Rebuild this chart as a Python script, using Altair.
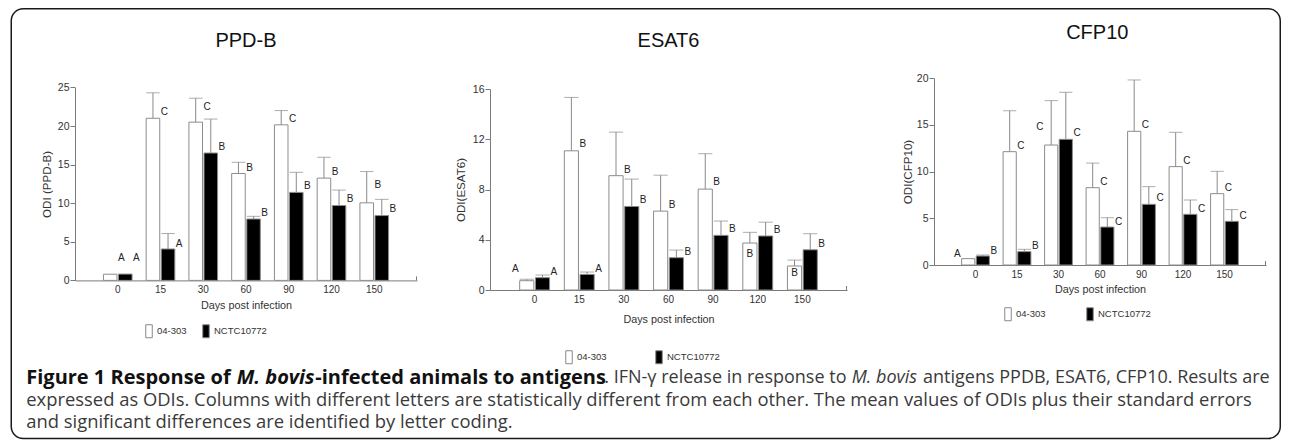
import altair as alt
import pandas as pd

FONT = "Liberation Sans"
CAPFONT = "Open Sans"
AXC = "#7a7a7a"
ERRC = "#8a8a8a"

days = ["0", "15", "30", "60", "90", "120", "150"]
strains = ["04-303", "NCTC10772"]

# ---- PPD-B ----
ppdb_a_mean = [0.80, 21.0, 20.5, 13.85, 20.15, 13.25, 10.05]
ppdb_a_se = [0.0, 3.3, 3.1, 1.45, 1.85, 2.7, 4.05]
ppdb_b_mean = [0.82, 4.07, 16.5, 7.95, 11.4, 9.7, 8.4]
ppdb_b_se = [0.0, 2.0, 4.4, 0.35, 2.6, 2.0, 2.1]
ppdb_a_letter = ["A", "C", "C", "B", "C", "B", "B"]
ppdb_b_letter = ["A", "A", "B", "B", "B", "B", "B"]
ppdb_a_letter_y = [2.86, 21.75, 22.5, 14.6, 20.9, 14.07, 12.3]
ppdb_b_letter_y = [2.86, 4.76, 17.3, 8.7, 12.2, 10.5, 9.2]
ppdb_a_place = ["right", "right", "right", "right", "right", "right", "right"]
ppdb_b_place = ["right", "right", "right", "right", "right", "right", "right"]

# ---- ESAT6 ----
esat_a_mean = [0.74, 11.08, 9.1, 6.28, 8.03, 3.74, 1.91]
esat_a_se = [0.11, 4.25, 3.47, 2.86, 2.82, 0.85, 0.47]
esat_b_mean = [0.98, 1.24, 6.65, 2.57, 4.35, 4.3, 3.2]
esat_b_se = [0.21, 0.19, 2.18, 0.61, 1.14, 1.1, 1.28]
esat_a_letter = ["A", "B", "B", "B", "B", "B", "B"]
esat_b_letter = ["A", "A", "B", "B", "B", "B", "B"]
esat_a_letter_y = [1.67, 11.6, 9.55, 6.79, 8.56, 2.86, 1.32]
esat_b_letter_y = [1.4, 1.67, 7.16, 3.05, 4.85, 4.77, 3.7]
esat_a_place = ["left", "right", "right", "right", "right", "inside", "inside"]
esat_b_place = ["right", "right", "right", "right", "right", "right", "right"]

# ---- CFP10 ----
cfp_a_mean = [0.68, 12.12, 12.83, 8.27, 14.3, 10.52, 7.63]
cfp_a_se = [0.0, 4.38, 4.75, 2.63, 5.49, 3.67, 2.39]
cfp_b_mean = [0.96, 1.43, 13.44, 4.06, 6.49, 5.42, 4.67]
cfp_b_se = [0.11, 0.25, 5.03, 1.0, 1.89, 1.53, 1.25]
cfp_a_letter = ["A", "C", "C", "C", "C", "C", "C"]
cfp_b_letter = ["B", "B", "C", "C", "C", "C", "C"]
cfp_a_letter_y = [1.18, 12.73, 14.72, 8.91, 14.94, 11.16, 8.24]
cfp_b_letter_y = [1.53, 2.03, 14.08, 4.63, 7.13, 6.02, 5.28]
cfp_a_place = ["left", "right", "left", "right", "right", "right", "right"]
cfp_b_place = ["right", "right", "right", "right", "right", "right", "right"]

# ---- caption ----
caption_segments = [
    "Figure 1 Response of",
    "M. bovis",
    "-infected animals to antigens",
    ". IFN-\u03b3 release in response to",
    "M. bovis",
    "antigens PPDB, ESAT6, CFP10. Results are",
    "expressed as ODIs. Columns with different letters are statistically different from each other. The mean values of ODIs plus their standard errors",
    "and significant differences are identified by letter coding.",
]
caption_weight = ["bold", "bold", "bold", "normal", "normal", "normal", "normal", "normal"]
caption_style = ["normal", "italic", "normal", "normal", "italic", "normal", "normal", "normal"]
caption_line = [0, 0, 0, 0, 0, 0, 1, 2]
caption_size = [20.0, 20.0, 20.0, 18.0, 18.0, 18.0, 18.4, 18.4]
# page-x of each segment start
caption_x = [25, 235.5, 314, 603, 850.5, 921.8, 25, 25]
caption_line_y = [378, 400, 422]

# P3 plot origin in page pixels (frame, caption and the CFP10 title are laid out around it)
P3X, P3Y = 932.75, 78.05


def make_df(am, ase, al, aly, ap, bm, bse, bl, bly, bp):
    rows = []
    for i, d in enumerate(days):
        rows.append(dict(day=d, strain=strains[0], mean=am[i], top=am[i] + ase[i],
                         se=ase[i], letter=al[i], ly=aly[i], place=ap[i]))
        rows.append(dict(day=d, strain=strains[1], mean=bm[i], top=bm[i] + bse[i],
                         se=bse[i], letter=bl[i], ly=bly[i], place=bp[i]))
    return pd.DataFrame(rows)


one = pd.DataFrame({"k": [0]})


def panel(df, title, title_offset, ytitle, ymax, ystep, w, ph, dtop, bw,
          ytp, xtp, lx, ly, lpad, extra=()):
    h = ph + dtop
    xs = alt.X("day:N", sort=days, title="Days post infection",
               scale=alt.Scale(paddingInner=0.33, paddingOuter=0.665),
               axis=alt.Axis(labelAngle=0, ticks=False, tickSize=0, labelPadding=4,
                             titlePadding=xtp, domainColor=AXC, labelColor="#333",
                             titleColor="#333", labelFontSize=10, titleFontSize=10.8,
                             labelFont=FONT, titleFont=FONT, titleFontWeight="normal"))
    xo = alt.XOffset("strain:N", sort=strains, scale=alt.Scale(paddingInner=0.1))

    def ych(field):
        return alt.Y(field + ":Q", title=ytitle,
                     scale=alt.Scale(domain=[0, ymax], nice=False, range=[h, dtop]),
                     axis=alt.Axis(values=list(range(0, ymax + 1, ystep)), grid=False,
                                   tickSize=5, tickColor=AXC, domainColor=AXC,
                                   labelPadding=1, titlePadding=ytp, labelFontSize=10.5,
                                   titleFontSize=11.6, labelColor="#333", titleColor="#333",
                                   titleFontWeight="normal", labelFont=FONT, titleFont=FONT))

    fill = alt.Fill("strain:N", sort=strains,
                    scale=alt.Scale(domain=strains, range=["#ffffff", "#000000"]),
                    legend=alt.Legend(title=None, orient="none", legendX=lx, legendY=ly,
                                      direction="horizontal",
                                      symbolType="M-0.5,-1H0.5V1H-0.5Z", symbolSize=169,
                                      symbolStrokeColor="#888", symbolStrokeWidth=1,
                                      labelFontSize=9.5, labelFont=FONT, labelColor="#333",
                                      labelOffset=1, columnPadding=lpad))
    base = alt.Chart(df)
    bars = base.mark_bar(stroke="#8c8c8c", strokeWidth=1).encode(
        x=xs, xOffset=xo, y=ych("mean"), fill=fill)
    err = base.mark_rule(color=ERRC, strokeWidth=1).encode(
        x=xs, xOffset=xo, y=ych("mean"), y2="top:Q")
    cap = base.transform_filter("datum.se > 0").mark_tick(
        color=ERRC, size=bw, thickness=1, orient="horizontal").encode(
        x=xs, xOffset=xo, y=ych("top"))
    # small upward tick closing the right end of the x axis
    end_tick = alt.Chart(one).mark_rule(color=AXC, strokeWidth=1).encode(
        x=alt.value(w - 0.5), y=alt.value(h), y2=alt.value(h - 4))
    layers = [bars, err, cap, end_tick]
    for place, align, dx in [("right", "left", bw / 2 + 1), ("left", "right", -(bw / 2 + 1)),
                             ("inside", "center", 0)]:
        if (df["place"] == place).any():
            layers.append(base.transform_filter(alt.datum.place == place).mark_text(
                align=align, baseline="middle", dx=dx, fontSize=10, font=FONT,
                color="#222").encode(x=xs, xOffset=xo, y=ych("ly"), text="letter:N"))
    layers.extend(extra)
    props = dict(width=w, height=h)
    if title:
        props["title"] = alt.TitleParams(title, fontSize=20, font=FONT, fontWeight="normal",
                                         color="#111", offset=title_offset)
    return alt.layer(*layers).properties(**props)


df1 = make_df(ppdb_a_mean, ppdb_a_se, ppdb_a_letter, ppdb_a_letter_y, ppdb_a_place,
              ppdb_b_mean, ppdb_b_se, ppdb_b_letter, ppdb_b_letter_y, ppdb_b_place)
df2 = make_df(esat_a_mean, esat_a_se, esat_a_letter, esat_a_letter_y, esat_a_place,
              esat_b_mean, esat_b_se, esat_b_letter, esat_b_letter_y, esat_b_place)
df3 = make_df(cfp_a_mean, cfp_a_se, cfp_a_letter, cfp_a_letter_y, cfp_a_place,
              cfp_b_mean, cfp_b_se, cfp_b_letter, cfp_b_letter_y, cfp_b_place)

# frame, caption and CFP10 title drawn inside the last panel (pixels relative to its origin)
frame_rect = alt.Chart(one).mark_rect(
    fillOpacity=0, stroke="#1a1a1a", strokeWidth=1.5, cornerRadius=12).encode(
    x=alt.value(10 - P3X), x2=alt.value(1279 - P3X),
    y=alt.value(8.8 - P3Y), y2=alt.value(438.5 - P3Y))
p3_title = alt.Chart(one).mark_text(
    text="CFP10", align="center", baseline="middle", font=FONT, fontSize=20,
    color="#111").encode(x=alt.value(1096 - P3X), y=alt.value(33 - P3Y))
extra = [frame_rect, p3_title]
for i, t in enumerate(caption_segments):
    extra.append(alt.Chart(one).mark_text(
        text=t, align="left", baseline="middle", font=CAPFONT, fontSize=caption_size[i],
        fontWeight=caption_weight[i], fontStyle=caption_style[i],
        color="#111" if caption_weight[i] == "bold" else "#3a3a3a").encode(
        x=alt.value(caption_x[i] - P3X),
        y=alt.value(caption_line_y[caption_line[i]] - P3Y)))

p1 = panel(df1, "PPD-B", 26.6, "ODI (PPD-B)", 25, 5, 342, 193, 9.4, 13.5,
           4.7, 5, 67, 246, 12)
p2 = panel(df2, "ESAT6", 26.6, "ODI(ESAT6)", 16, 4, 357, 201, 11, 14.2,
           5.7, 9, 72, 272, 45)
p3 = panel(df3, None, 0, "ODI(CFP10)", 20, 5, 332, 187, 0, 13.2,
           2.7, 4, 67, 229, 37, extra)


def res(c):
    return c.resolve_scale(x="independent", y="independent", fill="independent",
                           xOffset="independent").resolve_legend(fill="independent")


inner = res(alt.hconcat(p1, p2, spacing=38))
chart = res(alt.hconcat(inner, p3, spacing=-837)).properties(
    padding={"left": 2, "top": 0, "right": 0, "bottom": 0}, background="white"
).configure_view(strokeWidth=0)

chart.save("out.html", embed_options={"renderer": "svg", "actions": False})
